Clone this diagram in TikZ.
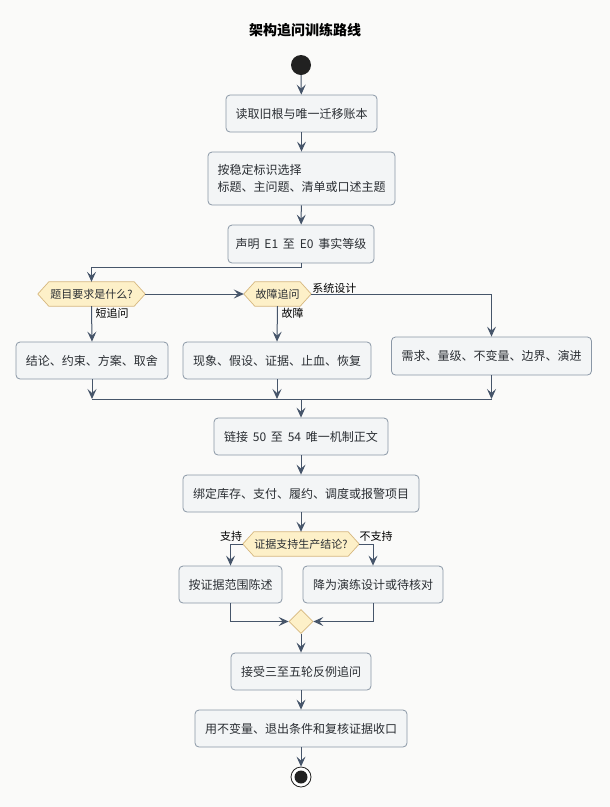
\documentclass[tikz,border=0pt]{standalone}
\usepackage{fontspec}
\setmainfont{Noto Sans CJK SC}
\usetikzlibrary{arrows.meta,shapes.geometric,calc,backgrounds}
\definecolor{bg}{HTML}{FAFAF9}
\definecolor{boxfill}{HTML}{F3F5F6}
\definecolor{boxline}{HTML}{8A97A6}
\definecolor{linec}{HTML}{46556A}
\definecolor{hexfill}{HTML}{FDF0C8}
\definecolor{hexline}{HTML}{D6B77E}
\definecolor{txt}{HTML}{2A2E33}
\newcommand{\wsp}{\hspace{0.4em}}
\tikzset{
  box/.style={draw=boxline, fill=boxfill, rounded corners=4pt, line width=0.8pt,
    inner sep=0pt, font=\fontsize{12}{17}\selectfont, text=txt},
  hexn/.style={inner sep=0pt, minimum height=24pt, font=\fontsize{11}{13}\selectfont, text=txt},
  hexd/.style={draw=hexline, fill=hexfill, line width=0.7pt},
  conn/.style={draw=linec, line width=1pt, -{Stealth[length=10pt,width=9pt,inset=4pt]}},
  plain/.style={draw=linec, line width=1pt},
  lbl/.style={font=\fontsize{11}{13}\selectfont, text=black, inner sep=0pt},
}
\begin{document}
\begin{tikzpicture}[x=1pt,y=-1pt]
\useasboundingbox (0,0) rectangle (610,807);

\node[font=\bfseries\fontsize{14}{16}\selectfont, text=black] (title) at (305,30) {架构追问训练路线};

\node[circle, fill=black!87, minimum size=20pt, inner sep=0pt] (start) at (301,65) {};

\node[box, minimum width=151pt, minimum height=37pt] (b1) at (301.5,113.5) {读取旧根与唯一迁移账本};
\node[box, minimum width=187pt, minimum height=53pt, align=left] (b2) at (301.5,178.5) {按稳定标识选择\\标题、主问题、清单或口述主题};
\node[box, minimum width=146pt, minimum height=38pt] (b3) at (301,244) {声明\wsp E1\wsp 至\wsp E0\wsp 事实等级};

\node[hexn, minimum width=107pt] (h1) at (91.5,294) {题目要求是什么?};
\node[hexn, minimum width=67pt] (h2) at (277.5,294) {故障追问};

\node[box, minimum width=152pt, minimum height=37pt] (bA) at (92,360.5) {结论、约束、方案、取舍};
\node[box, minimum width=188pt, minimum height=37pt] (bB) at (277,360.5) {现象、假设、证据、止血、恢复};
\node[box, minimum width=200pt, minimum height=38pt] (bC) at (491.5,356) {需求、量级、不变量、边界、演进};

\coordinate (m1) at (301,399);

\node[box, minimum width=174pt, minimum height=37pt] (b4) at (301,436.5) {链接\wsp 50\wsp 至\wsp 54\wsp 唯一机制正文};
\node[box, minimum width=236pt, minimum height=37pt] (b5) at (301,493.5) {绑定库存、支付、履约、调度或报警项目};

\node[hexn, minimum width=116pt] (h3) at (301,544) {证据支持生产结论?};

\node[box, minimum width=103pt, minimum height=37pt] (bL) at (230.5,584.5) {按证据范围陈述};
\node[box, minimum width=140pt, minimum height=37pt] (bR) at (373,584.5) {降为演练设计或待核对};

\node[diamond, hexd, minimum width=24pt, minimum height=24pt, inner sep=0pt] (mg) at (301,621.5) {};

\node[box, minimum width=140pt, minimum height=37pt] (b6) at (301,671.5) {接受三至五轮反例追问};
\node[box, minimum width=212pt, minimum height=37pt] (b7) at (301,728.5) {用不变量、退出条件和复核证据收口};

\node[circle, draw=black!87, fill=white, line width=0.8pt, minimum size=20pt, inner sep=0pt] (end) at (301,777) {};
\node[circle, fill=black!87, minimum size=13pt, inner sep=0pt] (endin) at (end.center) {};

% hexagons (behind the text)
\begin{scope}[on background layer]
\fill[bg] (0,0) rectangle (610,807);
\foreach \h/\d in {h1/11,h2/11,h3/11}{
  \draw[hexd] (\h.west) -- ($(\h.north west)+(\d,0)$) -- ($(\h.north east)+(-\d,0)$) -- (\h.east)
    -- ($(\h.south east)+(-\d,0)$) -- ($(\h.south west)+(\d,0)$) -- cycle;
}
\end{scope}

% connectors
\draw[conn] (start) -- (b1);
\draw[conn] (b1) -- (b2);
\draw[conn] (b2) -- (b3);
\draw[conn] (b3.south) -- ([yshift=-4pt]b3.south) -| (h1.north);
\draw[conn] (h1.east) -- (h2.west);
\draw[conn] (h2.east) -| (bC.north);
\draw[conn] (h1.south) -- (bA.north);
\draw[conn] (h2.south) -- (bB.north);
\node[lbl, anchor=south west] (lsys) at ([xshift=1pt,yshift=0pt]h2.east) {系统设计};
\node[lbl, anchor=north west] (lshort) at ([xshift=4pt,yshift=-2pt]h1.south) {短追问};
\node[lbl, anchor=north west] (lfault) at ([xshift=4pt,yshift=-2pt]h2.south) {故障};

\draw[conn] (bA.south) -- (bA.south |- m1);
\draw[conn] (bB.south) -- (bB.south |- m1);
\draw[conn] (bC.south) -- (bC.south |- m1);
\draw[plain] (bA.south |- m1) -- (bC.south |- m1);
\draw[conn] (m1) -- (b4.north);

\draw[conn] (b4) -- (b5);
\draw[conn] (b5.south) -- (h3.north);
\draw[conn] (h3.west) -| (bL.north);
\draw[conn] (h3.east) -| (bR.north);
\node[lbl, anchor=south] (lyes) at (231,542) {支持};
\node[lbl, anchor=south] (lno) at (376,542) {不支持};

\draw[conn] (bL.south) |- (mg.west);
\draw[conn] (bR.south) |- (mg.east);
\draw[conn] (mg.south) -- (b6.north);
\draw[conn] (b6) -- (b7);
\draw[conn] (b7.south) -- (end.north);
\end{tikzpicture}
\end{document}
